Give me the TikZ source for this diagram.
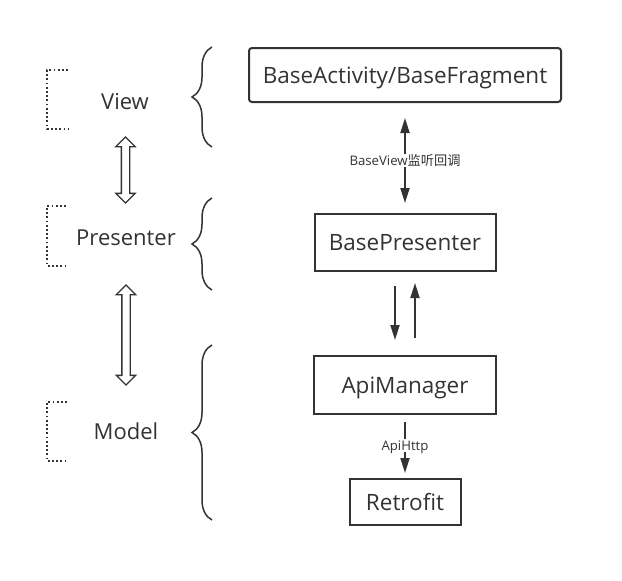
\documentclass[tikz,border=0pt]{standalone}
\usepackage{fontspec}
\setmainfont{Open Sans}
\newfontfamily\cjk{Noto Sans CJK SC}
\usetikzlibrary{arrows.meta,decorations.pathreplacing,positioning,shapes.arrows}
\definecolor{ink}{HTML}{333333}

\begin{document}
\begin{tikzpicture}[x=1pt,y=-1pt,
    block/.style={
    % The shape:
    rectangle,inner sep=0pt,text height=16pt,text depth=0pt,
    % The rest
    line width=2pt,draw=ink,text=ink,
    font=\fontsize{22.5}{27}\selectfont},
    layer/.style={text=ink,text height=15.7pt,text depth=0pt,font=\fontsize{22}{26}\selectfont},
    tag/.style={fill=white,inner sep=1.5pt,text=ink,text height=9.4pt,text depth=0pt,font=\fontsize{13.2}{16}\selectfont},
    link/.style={line width=1.8pt,draw=ink,-{Triangle[length=15pt,width=9pt]}},
    hollow/.style={double arrow,draw=ink,line width=1.3pt,rotate=90,
      double arrow head extend=5.5pt,inner xsep=0pt,inner ysep=3.5pt},
    bracket/.style={draw=ink,line width=1.6pt,dash pattern=on 1.8pt off 2.4pt},
    curly/.style={draw=ink,line width=1.5pt,decorate,decoration={brace,amplitude=20pt}}]
    \useasboundingbox (0,0) rectangle (622,581);
    % right column
    \node (activity) [block,minimum width=312pt,minimum height=54pt,rounded corners=3pt] at (405,75) {BaseActivity/BaseFragment};
    \node (basepresenter) [block,minimum width=181pt,minimum height=57pt,below=110pt of activity] {BasePresenter};
    \node (apimanager) [block,minimum width=182pt,minimum height=58pt,below=83pt of basepresenter] {ApiManager};
    \node (retrofit) [block,minimum width=111pt,minimum height=46pt,below=63pt of apimanager] {Retrofit};
    % left column
    \node (view) [layer] at (125,102) {View};
    \node (presenter) [layer] at (126,238) {Presenter};
    \node (model) [layer] at (126,432) {Model};
    \path (view.center) -- (presenter.center) node [hollow,midway,minimum height=66pt] (viewpres) {};
    \path (presenter.center) -- (model.center) node [hollow,midway,minimum height=100pt] (presmodel) {};
    \draw[bracket] (68,70) -- (47,70) -- (47,129) -- (68,129);
    \draw[bracket] (66,206) -- (47,206) -- (47,266) -- (66,266);
    \draw[bracket] (67,402) -- (47,402) -- (47,461) -- (67,461);
    \draw[curly] (212,147) -- (212,47);
    \draw[curly] (212,290) -- (212,198);
    \draw[curly] (212,520) -- (212,345);
    % connectors
    \draw[link,{Triangle[length=15pt,width=9pt]}-{Triangle[length=15pt,width=9pt]}] ([yshift=-15pt]activity.south) -- ([yshift=10pt]basepresenter.north)
      node [tag,midway] {BaseView{\cjk 监听回调}};
    \draw[link] ([xshift=-10pt,yshift=-14pt]basepresenter.south) -- ([xshift=-10pt,yshift=15pt]apimanager.north);
    \draw[link] ([xshift=10pt,yshift=17pt]apimanager.north) -- ([xshift=10pt,yshift=-11pt]basepresenter.south);
    \draw[link] ([yshift=-7pt]apimanager.south) -- ([yshift=5pt]retrofit.north)
      node [tag,midway,yshift=2pt] {ApiHttp};
\end{tikzpicture}
\end{document}
